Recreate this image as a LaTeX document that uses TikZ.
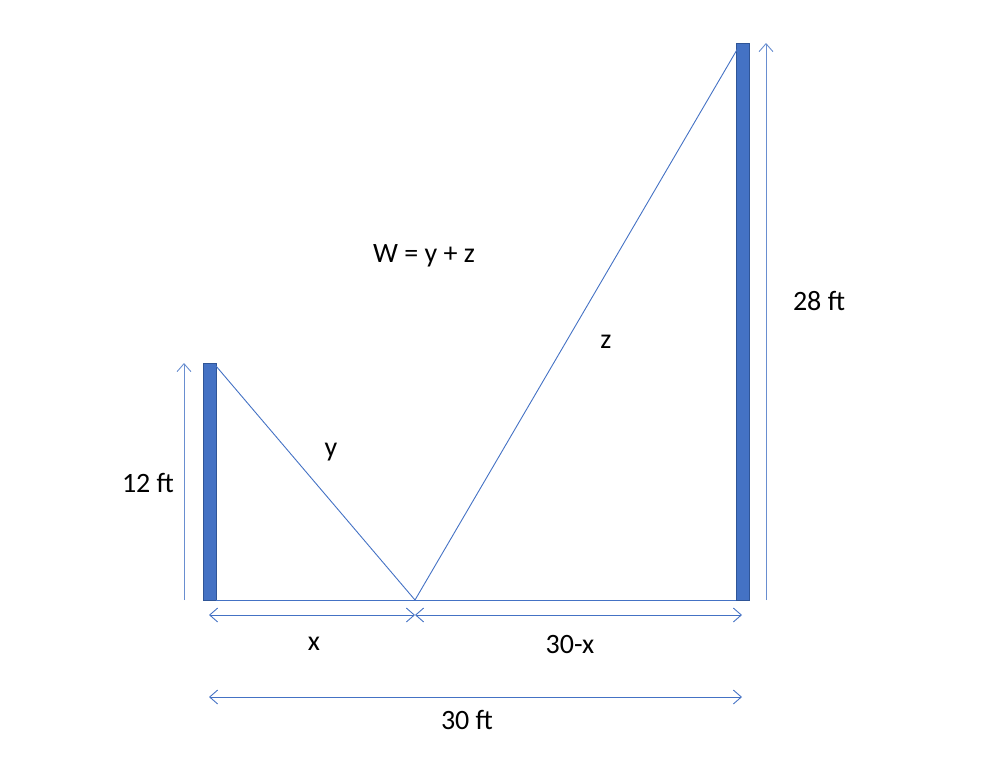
\documentclass[tikz,border=0pt]{standalone}
\usepackage{fontspec}
\setmainfont{Carlito}
\usetikzlibrary{arrows.meta}
\definecolor{acc}{HTML}{4472C4}
\definecolor{accd}{HTML}{2F5597}
\tikzset{
  pole/.style={fill=acc, draw=accd, line width=0.8pt},
  wire/.style={draw=acc, line width=0.9pt},
  dim/.style={draw=acc, line width=0.9pt, arrows={Straight Barb[length=8pt,width=14pt]-Straight Barb[length=8pt,width=14pt]}},
  updim/.style={draw=acc!80, line width=0.9pt, -{Straight Barb[length=8pt,width=14pt]}},
  lbl/.style={font=\fontsize{28}{32}\selectfont, text=black, inner sep=0pt}
}
\begin{document}
\begin{tikzpicture}[x=1pt,y=-1pt]
\useasboundingbox (0,0) rectangle (1004,764);
% poles
\node[pole, minimum width=13pt, minimum height=237pt, inner sep=0pt, anchor=north west] (lp) at (203,363) {};
\node[pole, minimum width=13pt, minimum height=557pt, inner sep=0pt, anchor=north west] (rp) at (736,43) {};
% key points
\coordinate (ltop) at (216,366);
\coordinate (mid) at (415,600);
\coordinate (rtop) at (738,48);
\coordinate (lbase) at (216,600);
\coordinate (rbase) at (736,600);
% lines
\draw[wire] (lbase) -- (rbase);
\draw[wire] (ltop) -- (mid) -- (rtop);
% vertical dimension arrows
\coordinate (la0) at (184,600);
\coordinate (la1) at (184,363);
\coordinate (ra0) at (766,600);
\coordinate (ra1) at (766,43);
\draw[updim] (la0) -- (la1);
\draw[updim] (ra0) -- (ra1);
% horizontal dimension arrows
\coordinate (h1) at (209,615);
\coordinate (h2) at (415,615);
\coordinate (h3) at (742,615);
\coordinate (b1) at (209,697);
\coordinate (b2) at (742,697);
\draw[dim] (h1) -- (h2);
\draw[dim] (h2) -- (h3);
\draw[dim] (b1) -- (b2);
% labels
\node[lbl] (w) at (424,256) {W = y + z};
\node[lbl] (l28) at (819,301) {28 ft};
\node[lbl] (lz) at (606,342) {z};
\node[lbl] (ly) at (331,452) {y};
\node[lbl] (l12) at (148,483) {12 ft};
\node[lbl] (lx) at (314,644) {x};
\node[lbl] (l30x) at (570,644) {30-x};
\node[lbl] (l30) at (467,720) {30 ft};
\end{tikzpicture}
\end{document}
